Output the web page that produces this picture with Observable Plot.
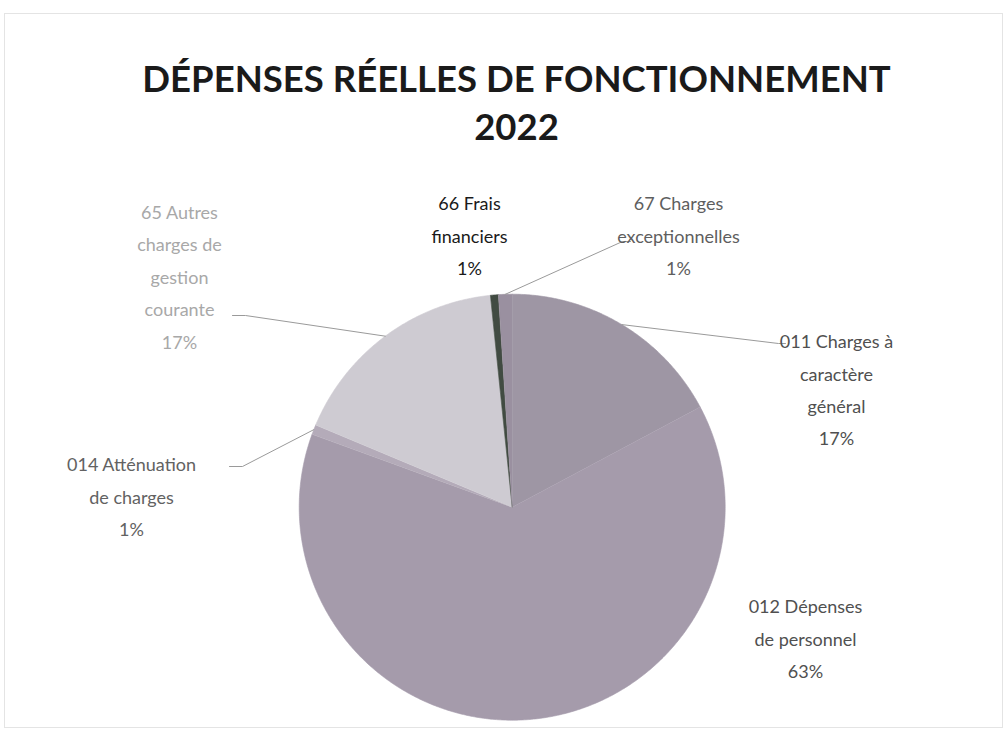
<!DOCTYPE html>
<html>
<head>
<meta charset="utf-8">
<script src="https://cdn.jsdelivr.net/npm/d3@7"></script>
<script src="https://cdn.jsdelivr.net/npm/@observablehq/plot@0.6"></script>
<style>
  html, body { margin: 0; padding: 0; background: #fff; }
  #chart svg { display: block; }
</style>
</head>
<body>
<div id="chart"></div>
<script>
// ---------- DATA ----------
const categories = [
  "011 Charges à caractère général",
  "012 Dépenses de personnel",
  "014 Atténuation de charges",
  "65 Autres charges de gestion courante",
  "66 Frais financiers",
  "67 Charges exceptionnelles"
];
const values = [17.2, 63.3, 0.75, 17.05, 0.6, 1.03];
const percentLabels = ["17%", "63%", "1%", "17%", "1%", "1%"];
const labelLines = [
  ["011 Charges à", "caractère", "général"],
  ["012 Dépenses", "de personnel"],
  ["014 Atténuation", "de charges"],
  ["65 Autres", "charges de", "gestion", "courante"],
  ["66 Frais", "financiers"],
  ["67 Charges", "exceptionnelles"]
];
const titleLines = ["DÉPENSES RÉELLES DE FONCTIONNEMENT", "2022"];

// ---------- STYLE / LAYOUT ----------
const sliceColors = ["#9e96a4", "#a59bab", "#b4abb9", "#cecbd2", "#414b42", "#9a90a0"];
const textColors  = ["#505050", "#505050", "#626262", "#a8a8a8", "#1a1a1a", "#5e5e5e"];
const W = 1007, H = 733;
const cx = 511.7, cy = 506.7, R = 213;
const labelPos = [[836, 386], [805, 635], [131, 493], [179, 273], [469, 232], [678, 232]];
const leaderEnds = [
  [[778, 343], [785, 343]],
  null,
  [[242, 466], [229, 466]],
  [[245, 315], [232, 315]],
  null,
  [[622, 241], [630, 241]]
];

// ---------- GEOMETRY (from data) ----------
const arcs = d3.pie().sort(null).value(d => d)(values);
const pt = (a, r) => [cx + r * Math.sin(a), cy - r * Math.cos(a)];

const slicePts = [];
arcs.forEach((a, i) => {
  slicePts.push({k: i, x: cx, y: cy, c: sliceColors[i]});
  const n = Math.max(2, Math.ceil((a.endAngle - a.startAngle) / (Math.PI / 360)));
  for (let j = 0; j <= n; j++) {
    const ang = a.startAngle + (a.endAngle - a.startAngle) * j / n;
    const [x, y] = pt(ang, R);
    slicePts.push({k: i, x, y, c: sliceColors[i]});
  }
});

const leaderPts = [];
arcs.forEach((a, i) => {
  if (!leaderEnds[i]) return;
  const mid = (a.startAngle + a.endAngle) / 2;
  const [x0, y0] = pt(mid, R);
  leaderPts.push({k: i, x: x0, y: y0});
  leaderEnds[i].forEach(([x, y]) => leaderPts.push({k: i, x, y}));
});

const labels = categories.map((c, i) => ({
  x: labelPos[i][0], y: labelPos[i][1],
  text: [...labelLines[i], percentLabels[i]].join("\n"),
  c: textColors[i]
}));

const titles = [
  {x: 516, y: 80, text: titleLines[0]},
  {x: 516, y: 128, text: titleLines[1]}
];

const chart = Plot.plot({
  width: W, height: H,
  margin: 0,
  x: {domain: [0, W], range: [0, W], axis: null},
  y: {domain: [0, H], range: [0, H], axis: null},
  color: {type: "identity"},
  style: {fontFamily: "Lato, 'Noto Sans', sans-serif", background: "#fff"},
  marks: [
    Plot.frame({stroke: "#e4e4e4", insetTop: 13, insetLeft: 4, insetRight: 5, insetBottom: 6}),
    Plot.line(slicePts, {x: "x", y: "y", z: "k", fill: "c", stroke: "c", strokeWidth: 0.6, curve: "linear"}),
    Plot.line(leaderPts, {x: "x", y: "y", z: "k", stroke: "#9a9a9a", strokeWidth: 1}),
    Plot.text(labels, {x: "x", y: "y", text: "text", fill: "c", fontSize: 18, lineHeight: 1.8, textAnchor: "middle"}),
    Plot.text(titles, {x: "x", y: "y", text: "text", fontSize: 36.5, fontWeight: "bold", fill: "#1a1a1a", textAnchor: "middle"})
  ]
});
document.getElementById("chart").appendChild(chart);
</script>
</body>
</html>
